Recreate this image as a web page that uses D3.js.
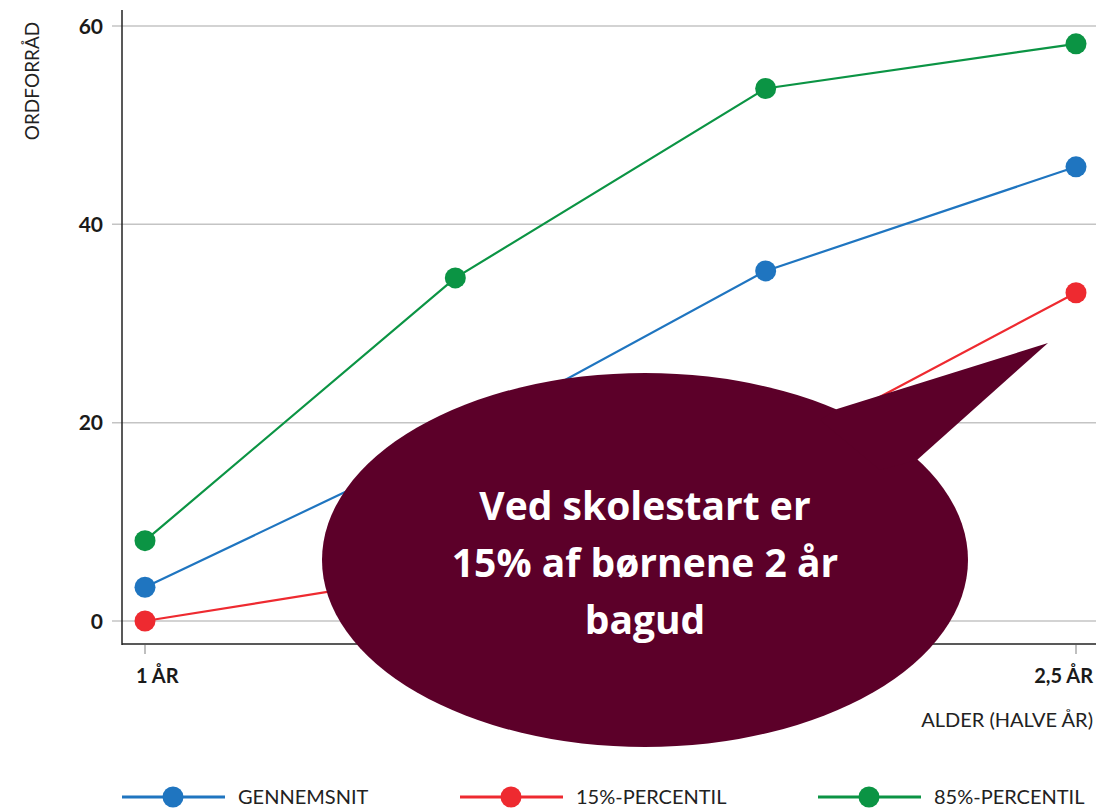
<!DOCTYPE html>
<html>
<head>
<meta charset="utf-8">
<script src="https://cdn.jsdelivr.net/npm/d3@7"></script>
<style>
  body { margin: 0; background: #fff; }
  svg { display: block; font-family: Lato, "Open Sans", sans-serif; }
</style>
</head>
<body>
<svg id="chart"></svg>
<script>
const ages = ["1 ÅR", "1,5 ÅR", "2 ÅR", "2,5 ÅR"];
const gennemsnit = [3.4, 18.3, 35.3, 45.8];
const percentil15 = [0, 5, 16.5, 33.1];
const percentil85 = [8.1, 34.6, 53.7, 58.2];
const yTicks = [0, 20, 40, 60];
const seriesNames = ["GENNEMSNIT", "15%-PERCENTIL", "85%-PERCENTIL"];
const bubbleLines = ["Ved skolestart er", "15% af børnene 2 år", "bagud"];

const width = 1096;
const height = 809;

const colors = ["#1f75c0", "#ee2a30", "#0b9444"];
const seriesValues = [gennemsnit, percentil15, percentil85];

const svg = d3.select("#chart").attr("width", width).attr("height", height);

const x = d3.scalePoint().domain(ages).range([145, 1076]);
const y = d3.scaleLinear().domain([0, 60]).range([621, 26]);

// gridlines
svg.append("g")
  .selectAll("line")
  .data(yTicks)
  .join("line")
  .attr("x1", 112)
  .attr("x2", 1096)
  .attr("y1", (d) => y(d))
  .attr("y2", (d) => y(d))
  .attr("stroke", "#c4c4c4")
  .attr("stroke-width", 1.5);

// y tick labels
svg.append("g")
  .selectAll("text")
  .data(yTicks)
  .join("text")
  .attr("x", 103)
  .attr("y", (d) => y(d))
  .attr("dy", "0.36em")
  .attr("text-anchor", "end")
  .attr("font-size", 21)
  .attr("font-weight", "bold")
  .attr("fill", "#1a1a1a")
  .text((d) => d);

// axis lines
svg.append("line")
  .attr("x1", 122).attr("x2", 122)
  .attr("y1", 10).attr("y2", 645)
  .attr("stroke", "#222").attr("stroke-width", 1.5);
svg.append("line")
  .attr("x1", 122).attr("x2", 1096)
  .attr("y1", 644).attr("y2", 644)
  .attr("stroke", "#222").attr("stroke-width", 1.5);

// x ticks
const xTick = svg.append("g")
  .selectAll("g")
  .data(ages)
  .join("g")
  .attr("transform", (d) => `translate(${x(d)},0)`);
xTick.append("line")
  .attr("y1", 645).attr("y2", 654)
  .attr("stroke", "#aaa").attr("stroke-width", 1.5);
xTick.append("text")
  .attr("y", 683)
  .attr("text-anchor", (d, i) => (i === ages.length - 1 ? "end" : "start"))
  .attr("dx", (d, i) => (i === ages.length - 1 ? 17 : -9))
  .attr("font-size", 20)
  .attr("font-weight", "bold")
  .attr("fill", "#1a1a1a")
  .text((d) => d);

// axis titles
svg.append("text")
  .attr("transform", "translate(39,81) rotate(-90)")
  .attr("text-anchor", "middle")
  .attr("font-size", 19)
  .attr("fill", "#222")
  .text("ORDFORRÅD");

svg.append("text")
  .attr("x", 1093)
  .attr("y", 727)
  .attr("text-anchor", "end")
  .attr("font-size", 20)
  .attr("fill", "#222")
  .text("ALDER (HALVE ÅR)");

// series
const line = d3.line()
  .x((d, i) => x(ages[i]))
  .y((d) => y(d));

seriesValues.forEach((vals, k) => {
  const g = svg.append("g");
  g.append("path")
    .attr("d", line(vals))
    .attr("fill", "none")
    .attr("stroke", colors[k])
    .attr("stroke-width", 2.2);
  g.selectAll("circle")
    .data(vals)
    .join("circle")
    .attr("cx", (d, i) => x(ages[i]))
    .attr("cy", (d) => y(d))
    .attr("r", 10.5)
    .attr("fill", colors[k]);
});

// legend (sits right at the bottom edge, as in the original)
const legendX = [122, 460, 818];
const legend = svg.append("g")
  .selectAll("g")
  .data(seriesNames)
  .join("g")
  .attr("transform", (d, i) => `translate(${legendX[i]},797)`);
legend.append("line")
  .attr("x1", 0).attr("x2", 103)
  .attr("stroke", (d, i) => colors[i])
  .attr("stroke-width", 3);
legend.append("circle")
  .attr("cx", 51).attr("r", 10.5)
  .attr("fill", (d, i) => colors[i]);
legend.append("text")
  .attr("x", 116)
  .attr("dy", "0.34em")
  .attr("font-size", 20)
  .attr("fill", "#222")
  .text((d) => d);

// speech bubble
const bubble = svg.append("g");
bubble.append("ellipse")
  .attr("cx", 645).attr("cy", 560)
  .attr("rx", 323).attr("ry", 187)
  .attr("fill", "#5c0029");
bubble.append("path")
  .attr("d", "M820,420 L837,409 L1048,343 L917,460 L880,470 Z")
  .attr("fill", "#5c0029");
bubble.append("g")
  .selectAll("text")
  .data(bubbleLines)
  .join("text")
  .attr("x", 645)
  .attr("y", (d, i) => 520 + i * 57)
  .attr("text-anchor", "middle")
  .attr("font-family", "'Open Sans', sans-serif")
  .attr("font-weight", "bold")
  .attr("font-size", 39)
  .attr("fill", "#fff")
  .text((d) => d);
</script>
</body>
</html>
